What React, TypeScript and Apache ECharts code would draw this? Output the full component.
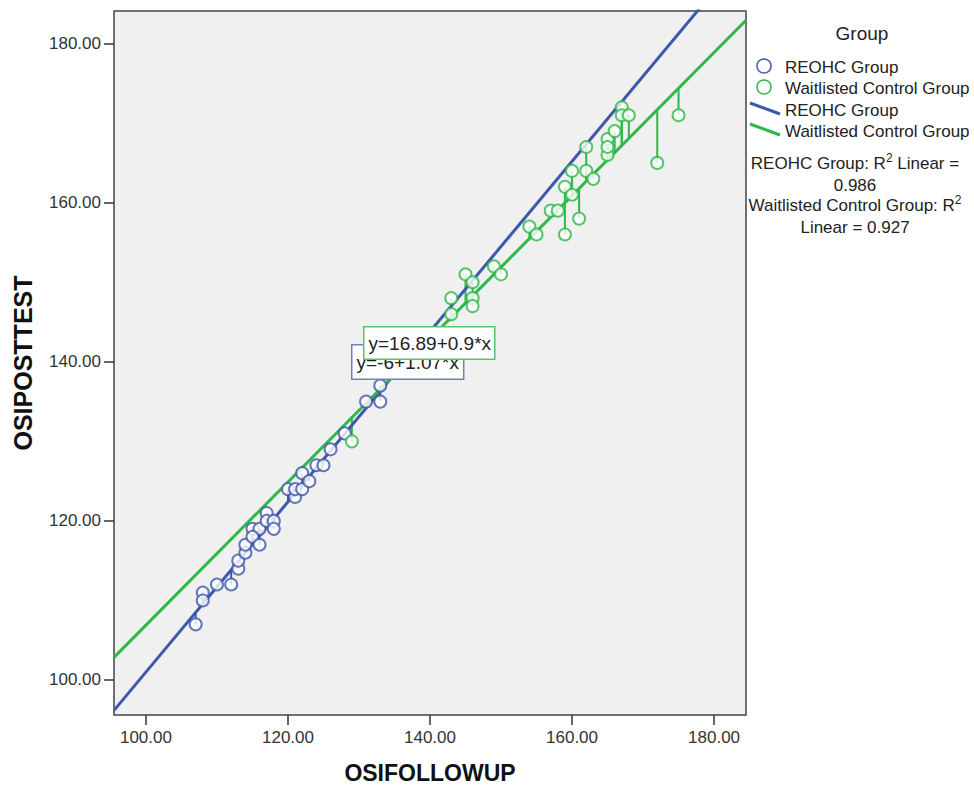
import React, { useEffect, useRef } from "react";
import * as echarts from "echarts";

const groupNames = ["REOHC Group", "Waitlisted Control Group"];
const groupColors = ["#3E58AC", "#2EB848"];

const reohcX = [107, 108, 108, 110, 112, 113, 113, 114, 114, 115, 116, 115, 116, 117, 117, 118, 118, 120, 121, 121, 122, 122, 123, 124, 125, 126, 128, 131, 133, 133];
const reohcY = [107, 111, 110, 112, 112, 114, 115, 116, 117, 119, 119, 118, 117, 121, 120, 120, 119, 124, 123, 124, 126, 124, 125, 127, 127, 129, 131, 135, 135, 137];

const waitX = [129, 143, 143, 145, 146, 146, 146, 149, 150, 154, 155, 157, 158, 159, 159, 160, 160, 161, 162, 162, 163, 165, 165, 165, 166, 167, 167, 168, 172, 175];
const waitY = [130, 148, 146, 151, 150, 148, 147, 152, 151, 157, 156, 159, 159, 156, 162, 161, 164, 158, 167, 164, 163, 168, 166, 167, 169, 172, 171, 171, 165, 171];

const intercepts = [-6, 16.89];
const slopes = [1.07, 0.9];
const rSquared = ["0.986", "0.927"];
const equationTexts = ["y=-6+1.07*x", "y=16.89+0.9*x"];

const tickValues = [100, 120, 140, 160, 180];
const xMin = 95.5, xMax = 184.5;
const yMin = 95.6, yMax = 184.1;

const FONT = "'Liberation Sans', Arial, sans-serif";

export default function App() {
  const ref = useRef<HTMLDivElement>(null);
  useEffect(() => {
    if (!ref.current) return;
    const chart = echarts.init(ref.current, undefined, { renderer: "svg" });
    const xs = [reohcX, waitX];
    const ys = [reohcY, waitY];
    const series: any[] = [];
    for (let g = 0; g < 2; g++) {
      const fit = (x: number) => intercepts[g] + slopes[g] * x;
      series.push({
        type: "custom",
        name: groupNames[g] + " residual",
        data: xs[g].map((x, i) => [x, ys[g][i], fit(x)]),
        encode: { x: 0, y: [1, 2] },
        z: 2,
        renderItem: (params: any, api: any) => {
          const p1 = api.coord([api.value(0), api.value(1)]);
          const p2 = api.coord([api.value(0), api.value(2)]);
          return {
            type: "line",
            shape: { x1: p1[0], y1: p1[1], x2: p2[0], y2: p2[1] },
            style: { stroke: groupColors[g], lineWidth: 2 },
          };
        },
      });
    }
    for (let g = 0; g < 2; g++) {
      const fit = (x: number) => intercepts[g] + slopes[g] * x;
      series.push({
        type: "line",
        name: groupNames[g] + " fit",
        data: [[xMin, fit(xMin)], [xMax, fit(xMax)]],
        showSymbol: false,
        symbol: "none",
        clip: true,
        lineStyle: { color: groupColors[g], width: 3 },
        z: 3,
      });
    }
    for (let g = 0; g < 2; g++) {
      series.push({
        type: "scatter",
        name: groupNames[g],
        data: xs[g].map((x, i) => [x, ys[g][i]]),
        symbol: "emptyCircle",
        symbolSize: 12,
        itemStyle: { color: groupColors[g], borderColor: groupColors[g], borderWidth: 1.5 },
        z: 4,
      });
    }

    const legendText = { fill: "#222", fontSize: 17, fontFamily: FONT };
    const supStyle = { fill: "#222", fontSize: 12, fontFamily: FONT, verticalAlign: "top", padding: [0, 0, 9, 0] };
    const graphic: any[] = [
      { type: "text", x: 862, y: 33, style: { text: "Group", fill: "#222", fontSize: 19, fontFamily: FONT, align: "center", verticalAlign: "middle" } },
      { type: "circle", shape: { cx: 764, cy: 66, r: 7 }, style: { fill: "none", stroke: groupColors[0], lineWidth: 1.5 } },
      { type: "text", x: 785, y: 67, style: { text: groupNames[0], ...legendText, verticalAlign: "middle" } },
      { type: "circle", shape: { cx: 764, cy: 87, r: 7 }, style: { fill: "none", stroke: groupColors[1], lineWidth: 1.5 } },
      { type: "text", x: 785, y: 88, style: { text: groupNames[1], ...legendText, verticalAlign: "middle" } },
      { type: "line", shape: { x1: 750, y1: 103, x2: 780, y2: 114 }, style: { stroke: groupColors[0], lineWidth: 3 } },
      { type: "text", x: 785, y: 110, style: { text: groupNames[0], ...legendText, verticalAlign: "middle" } },
      { type: "line", shape: { x1: 750, y1: 124, x2: 780, y2: 135 }, style: { stroke: groupColors[1], lineWidth: 3 } },
      { type: "text", x: 785, y: 131, style: { text: groupNames[1], ...legendText, verticalAlign: "middle" } },
      {
        type: "text", x: 855, y: 174,
        style: {
          text: "{a|" + groupNames[0] + ": R}{s|2}{a| Linear =}\n{a|" + rSquared[0] + "}",
          align: "center", verticalAlign: "middle", lineHeight: 22,
          rich: { a: { ...legendText, lineHeight: 22 }, s: supStyle },
          fontFamily: FONT, fontSize: 17,
        },
      },
      {
        type: "text", x: 855, y: 216,
        style: {
          text: "{a|" + groupNames[1] + ": R}{s|2}\n{a|Linear = " + rSquared[1] + "}",
          align: "center", verticalAlign: "middle", lineHeight: 22,
          rich: { a: { ...legendText, lineHeight: 22 }, s: supStyle },
          fontFamily: FONT, fontSize: 17,
        },
      },
      {
        type: "text", left: 351, top: 344, z: 10,
        style: {
          text: equationTexts[0], fill: "#222", fontSize: 19, fontFamily: FONT,
          backgroundColor: "#fff", borderColor: "#6F7FC0", borderWidth: 1.5, padding: [7, 4, 7, 4],
        },
      },
      {
        type: "text", left: 363, top: 326, z: 11,
        style: {
          text: equationTexts[1], fill: "#222", fontSize: 19, fontFamily: FONT,
          backgroundColor: "#fff", borderColor: "#55C46A", borderWidth: 1.5, padding: [6, 3, 6, 4],
        },
      },
    ];

    chart.setOption({
      animation: false,
      backgroundColor: "#fff",
      grid: {
        left: 114, right: 228, top: 11, bottom: 70,
        show: true, backgroundColor: "#F0F0F0", borderColor: "#444", borderWidth: 1.5,
      },
      xAxis: {
        type: "value", min: xMin, max: xMax,
        name: "OSIFOLLOWUP", nameLocation: "middle", nameGap: 46,
        nameTextStyle: { fontSize: 23, fontWeight: "bold", color: "#111", fontFamily: FONT },
        axisLine: { show: false },
        splitLine: { show: false },
        axisTick: { show: true, length: 10, lineStyle: { color: "#333", width: 1.5 }, customValues: tickValues },
        axisLabel: { customValues: tickValues, formatter: (v: number) => v.toFixed(2), fontSize: 17, color: "#333", fontFamily: FONT, margin: 14 },
      },
      yAxis: {
        type: "value", min: yMin, max: yMax,
        name: "OSIPOSTTEST", nameLocation: "middle", nameGap: 79,
        nameTextStyle: { fontSize: 25, fontWeight: "bold", color: "#111", fontFamily: FONT },
        axisLine: { show: false },
        splitLine: { show: false },
        axisTick: { show: true, length: 10, lineStyle: { color: "#333", width: 1.5 }, customValues: tickValues },
        axisLabel: { customValues: tickValues, formatter: (v: number) => v.toFixed(2), fontSize: 17, color: "#333", fontFamily: FONT, margin: 13 },
      },
      series,
      graphic,
    });
    return () => chart.dispose();
  }, []);
  return <div ref={ref} style={{ position: "fixed", left: 0, top: 0, width: 974, height: 789 }} />;
}
